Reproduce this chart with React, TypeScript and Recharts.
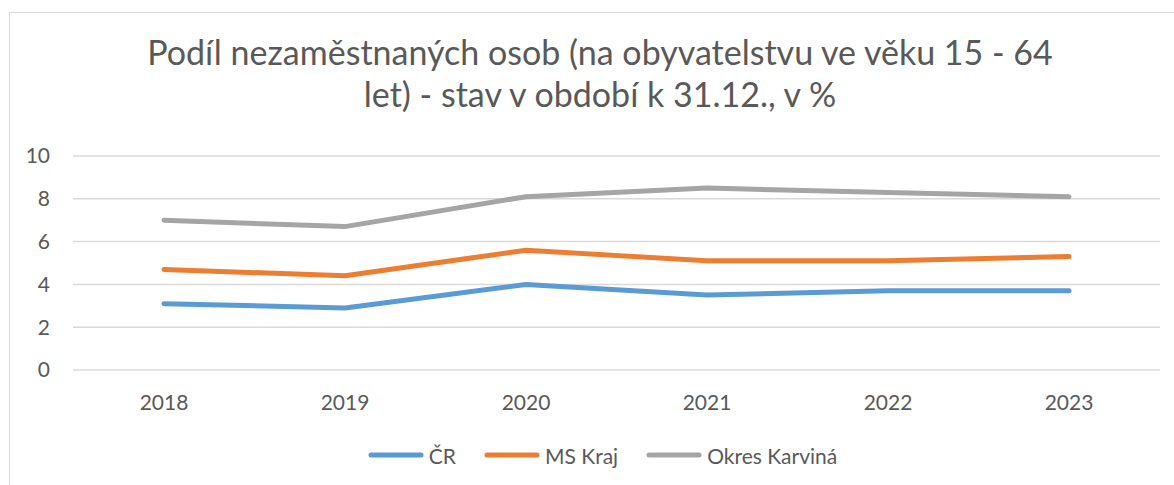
import React from 'react';
import { LineChart, Line, XAxis, YAxis, CartesianGrid, Legend } from 'recharts';

const years = ['2018', '2019', '2020', '2021', '2022', '2023'];
const cr = [3.1, 2.9, 4.0, 3.5, 3.7, 3.7];
const msKraj = [4.7, 4.4, 5.6, 5.1, 5.1, 5.3];
const karvina = [7.0, 6.7, 8.1, 8.5, 8.3, 8.1];
const yTicks = [0, 2, 4, 6, 8, 10];
const titleLines = [
  'Podíl nezaměstnaných osob (na obyvatelstvu ve věku 15 - 64',
  'let) - stav v období k 31.12., v %',
];

const series = [
  { key: 'cr', name: 'ČR', color: '#5B9BD5' },
  { key: 'ms', name: 'MS Kraj', color: '#ED7D31' },
  { key: 'ka', name: 'Okres Karviná', color: '#A5A5A5' },
];

const data = years.map((y, i) => ({ year: y, cr: cr[i], ms: msKraj[i], ka: karvina[i] }));

const FONT = 'Lato, "Open Sans", sans-serif';
const TEXT = '#595959';

const LegendContent = () => (
  <div
    style={{
      width: 1174,
      boxSizing: 'border-box',
      paddingLeft: 31,
      display: 'flex',
      justifyContent: 'center',
      alignItems: 'center',
      height: 30,
      fontFamily: FONT,
      fontSize: 21,
      color: TEXT,
    }}
  >
    {series.map((s, i) => (
      <div key={s.key} style={{ display: 'flex', alignItems: 'center', marginLeft: i === 0 ? 0 : 28 }}>
        <svg width={56} height={8} style={{ marginRight: 5 }}>
          <line x1={3} y1={4} x2={53} y2={4} stroke={s.color} strokeWidth={5} strokeLinecap="round" />
        </svg>
        <span>{s.name}</span>
      </div>
    ))}
  </div>
);

export default function App() {
  return (
    <div style={{ position: 'absolute', left: 0, top: 0, width: 1174, height: 485, background: '#fff', overflow: 'hidden' }}>
      <div
        style={{
          position: 'absolute',
          left: 9,
          top: 12,
          width: 1200,
          height: 500,
          borderLeft: '1.5px solid #d9d9d9',
          borderTop: '1.5px solid #d9d9d9',
        }}
      />
      <div
        style={{
          position: 'absolute',
          left: 0,
          top: 31,
          width: 1200,
          textAlign: 'center',
          fontFamily: FONT,
          fontSize: 34,
          lineHeight: '42px',
          color: TEXT,
          whiteSpace: 'nowrap',
        }}
      >
        {titleLines.map((t) => (
          <div key={t}>{t}</div>
        ))}
      </div>
      <div style={{ position: 'absolute', left: 0, top: 0 }}>
        <LineChart width={1174} height={485} data={data} margin={{ top: 156, right: 14, bottom: 15, left: 0 }}>
          <CartesianGrid vertical={false} stroke="#d9d9d9" strokeWidth={1.5} />
          <XAxis
            dataKey="year"
            axisLine={false}
            tickLine={false}
            tickSize={0}
            tickMargin={25}
            height={70}
            padding={{ left: 91, right: 91 }}
            tick={{ fill: TEXT, fontSize: 21, fontFamily: FONT }}
            interval={0}
          />
          <YAxis
            domain={[0, 10]}
            ticks={yTicks}
            axisLine={false}
            tickLine={false}
            tickSize={0}
            tickMargin={23}
            width={73}
            tick={{ fill: TEXT, fontSize: 21, fontFamily: FONT }}
          />
          <Legend
            verticalAlign="bottom"
            height={30}
            content={<LegendContent />}
            wrapperStyle={{ left: 0, width: 1174 }}
          />
          {series.map((s) => (
            <Line
              key={s.key}
              type="linear"
              dataKey={s.key}
              name={s.name}
              stroke={s.color}
              strokeWidth={5}
              strokeLinecap="round"
              strokeLinejoin="round"
              dot={false}
              activeDot={false}
              isAnimationActive={false}
            />
          ))}
        </LineChart>
      </div>
    </div>
  );
}
